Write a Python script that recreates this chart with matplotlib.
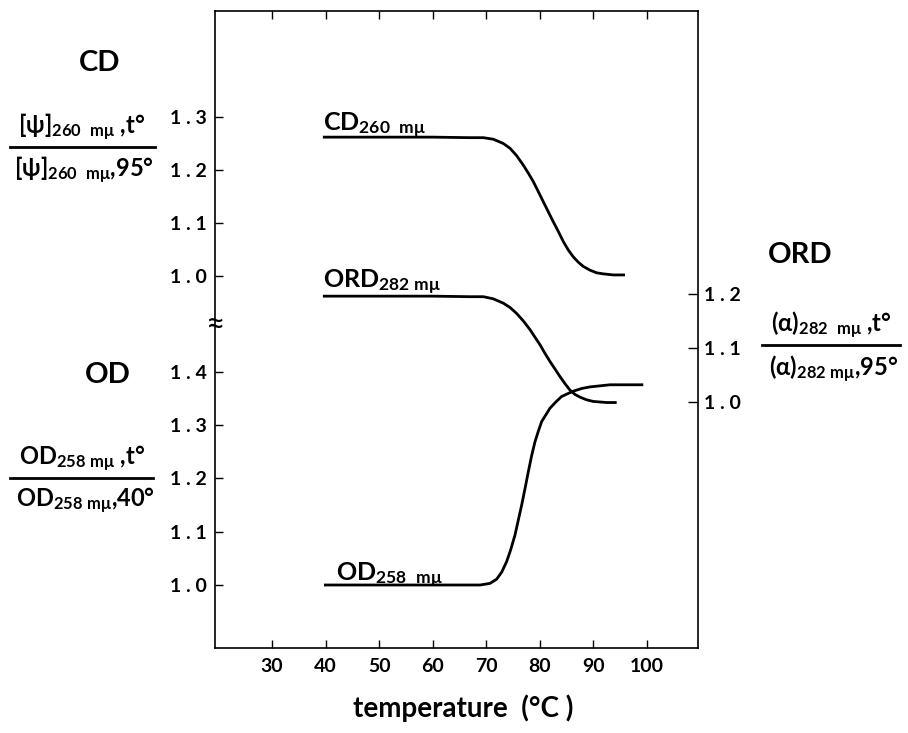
import matplotlib
matplotlib.use("Agg")
import matplotlib.pyplot as plt
from matplotlib.lines import Line2D
from matplotlib.transforms import blended_transform_factory

plt.rcParams["font.family"] = ["Lato", "DejaVu Sans"]
plt.rcParams["mathtext.fontset"] = "custom"
plt.rcParams["mathtext.rm"] = "Lato"
plt.rcParams["mathtext.it"] = "Lato"
plt.rcParams["mathtext.bf"] = "Lato:bold"

# temperature readings (deg C) and normalised values
cd_temp = [39.5, 50, 60, 66.96, 69.45, 71.32, 73.18, 74.43, 75.67, 76.92,
           77.85, 78.78, 79.72, 80.65, 81.58, 82.52, 83.45, 84.38, 85.31,
           86.25, 87.18, 88.11, 89.36, 90.60, 91.85, 93.71, 95.89]
cd_val = [1.262, 1.262, 1.262, 1.261, 1.261, 1.258, 1.250, 1.241, 1.227, 1.209,
          1.194, 1.178, 1.159, 1.140, 1.121, 1.102, 1.084, 1.065, 1.049,
          1.036, 1.026, 1.018, 1.011, 1.006, 1.004, 1.002, 1.002]

ord_temp = [39.5, 50, 60, 66.96, 69.45, 71.32, 73.18, 74.43, 75.67, 76.92,
            78.16, 79.09, 80.03, 80.96, 81.89, 82.83, 83.76, 84.69, 85.63,
            86.56, 87.49, 88.74, 89.98, 91.23, 92.47, 94.34]
ord_val = [1.196, 1.196, 1.196, 1.195, 1.195, 1.191, 1.183, 1.175, 1.164, 1.150,
           1.134, 1.120, 1.106, 1.090, 1.075, 1.061, 1.047, 1.034, 1.022,
           1.014, 1.009, 1.004, 1.001, 1.000, 0.999, 0.999]

od_temp = [39.7, 50, 60, 66.96, 68.83, 70.69, 71.94, 72.87, 73.80, 74.55,
           75.36, 75.98, 76.60, 77.23, 77.85, 78.47, 79.09, 79.72, 80.34,
           81.15, 81.89, 83.01, 84.07, 85.13, 86.25, 87.80, 89.36, 91.23,
           93.09, 96.20, 99.31]
od_val = [1.0, 1.0, 1.0, 1.0, 1.0, 1.003, 1.011, 1.024, 1.044, 1.066,
          1.094, 1.122, 1.150, 1.181, 1.213, 1.243, 1.269, 1.289, 1.307,
          1.320, 1.332, 1.344, 1.354, 1.359, 1.364, 1.369, 1.372, 1.374,
          1.376, 1.376, 1.376]

x_ticks = [30, 40, 50, 60, 70, 80, 90, 100]
cd_ticks = [1.0, 1.1, 1.2, 1.3]
od_ticks = [1.0, 1.1, 1.2, 1.3, 1.4]
ord_ticks = [1.0, 1.1, 1.2]

W, H = 908, 733


def fx(px):
    return px / W


def fy(py):
    return 1 - py / H


def spaced(v):
    return f"{v:.1f}".replace(".", " . ")


fig = plt.figure(figsize=(9.08, 7.33), dpi=100)
ax = fig.add_axes([fx(215), fy(648), (698 - 215) / W, (648 - 11) / H])
ax_cd = ax.twinx()
ax_ord = ax.twinx()

ax.set_xlim(19.36, 109.52)
ax.set_ylim(0.8817, 2.0779)
ax_cd.set_ylim(0.2981, 1.5)
ax_ord.set_ylim(0.5444, 1.7241)

line_kw = dict(color="black", lw=2.0, solid_capstyle="butt", solid_joinstyle="round")
ax_cd.plot(cd_temp, cd_val, **line_kw)
ax_ord.plot(ord_temp, ord_val, **line_kw)
ax.plot(od_temp, od_val, **line_kw)

for a in (ax, ax_cd, ax_ord):
    for s in a.spines.values():
        s.set_linewidth(1.2)
for a in (ax_cd, ax_ord):
    for s in a.spines.values():
        s.set_visible(False)

tick_font = dict(fontsize=14, fontweight="bold")

ax.set_xticks(x_ticks)
ax.set_xticklabels([str(t) for t in x_ticks], **tick_font)
ax.tick_params(axis="x", direction="in", length=6, width=1, pad=7, top=True)
ax.set_yticks(od_ticks)
ax.set_yticklabels([spaced(v) for v in od_ticks], **tick_font)
ax.tick_params(axis="y", direction="in", length=6, width=1, pad=6)

ax_cd.yaxis.tick_left()
ax_cd.set_yticks(cd_ticks)
ax_cd.set_yticklabels([spaced(v) for v in cd_ticks], **tick_font)
ax_cd.tick_params(axis="y", direction="in", length=6, width=1, pad=6)

ax_ord.set_yticks(ord_ticks)
ax_ord.set_yticklabels([spaced(v) for v in ord_ticks], **tick_font)
ax_ord.tick_params(axis="y", direction="in", length=7, width=1, pad=4)

# axis break mark on the left spine
trans = blended_transform_factory(ax.transAxes, ax.transData)
ax.text(0, 1.488, "≈", transform=trans, ha="center", va="center",
        fontsize=24, clip_on=False)

# curve labels
ax_cd.text(39.5, 1.2736, r"CD$_{\mathregular{260\ \ m\mu}}$", fontsize=18,
           fontweight="bold", va="baseline")
ax_ord.text(39.5, 1.211, r"ORD$_{\mathregular{282\ m\mu}}$", fontsize=18,
            fontweight="bold", va="baseline")
ax.text(41.9, 1.008, r"OD$_{\mathregular{258\ \ m\mu}}$", fontsize=18,
        fontweight="bold", va="baseline")

# axis titles with fractions
big = dict(fontsize=21, fontweight="bold", ha="center", va="center")
fig.text(fx(100), fy(63), "CD", **big)
fig.text(fx(108), fy(375), "OD", **big)
fig.text(fx(800), fy(255), "ORD", **big)

frac = dict(fontsize=17, fontweight="bold", ha="center")
fig.text(fx(82), fy(142), r"[ψ]$_{\mathregular{260\ \ m\mu}}$ ,t°", va="bottom", **frac)
fig.text(fx(84), fy(154), r"[ψ]$_{\mathregular{260\ \ m\mu}}$,95°", va="top", **frac)
fig.add_artist(Line2D([fx(10), fx(155)], [fy(147), fy(147)], color="black", lw=2))

fig.text(fx(82), fy(473), r"OD$_{\mathregular{258\ m\mu}}$ ,t°", va="bottom", **frac)
fig.text(fx(85), fy(485), r"OD$_{\mathregular{258\ m\mu}}$,40°", va="top", **frac)
fig.add_artist(Line2D([fx(10), fx(153)], [fy(478), fy(478)], color="black", lw=2))

fig.text(fx(831), fy(340), r"(α)$_{\mathregular{282\ \ m\mu}}$ ,t°", va="bottom", **frac)
fig.text(fx(834), fy(353), r"(α)$_{\mathregular{282\ m\mu}}$,95°", va="top", **frac)
fig.add_artist(Line2D([fx(762), fx(900)], [fy(345), fy(345)], color="black", lw=2))

fig.text(fx(463), fy(708), "temperature  (°C )", fontsize=20, fontweight="bold",
         ha="center", va="center")

fig.savefig("out.png", dpi=100)
